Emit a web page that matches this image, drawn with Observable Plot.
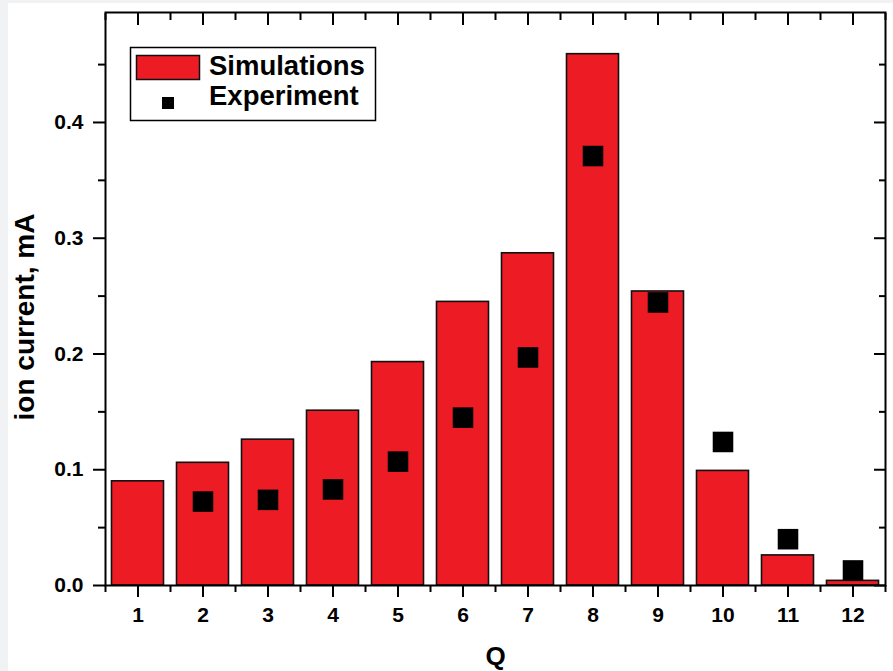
<!DOCTYPE html>
<html><head><meta charset="utf-8">
<script src="https://cdn.jsdelivr.net/npm/d3@7"></script>
<script src="https://cdn.jsdelivr.net/npm/@observablehq/plot@0.6"></script>
<style>
html,body{margin:0;padding:0;background:#f1f2f3;overflow:hidden;}
#wrap{position:absolute;left:0;top:0;width:893px;height:671px;}
#card{position:absolute;left:8px;top:3px;right:0;bottom:0;background:#fff;}
#chart{position:absolute;left:0;top:0;}
</style></head><body>
<div id="wrap"><div id="card"></div><div id="chart"></div></div>
<script>
// ---- data ----
const charges = [1, 2, 3, 4, 5, 6, 7, 8, 9, 10, 11, 12];
const simulations = [0.090, 0.106, 0.126, 0.151, 0.193, 0.245, 0.287, 0.459, 0.254, 0.099, 0.026, 0.004];
const expCharges = [2, 3, 4, 5, 6, 7, 8, 9, 10, 11, 12];
const experiment = [0.0725, 0.074, 0.083, 0.107, 0.145, 0.197, 0.371, 0.2445, 0.124, 0.040, 0.013];
const xMajorTicks = [1, 2, 3, 4, 5, 6, 7, 8, 9, 10, 11, 12];
const xMinorTicks = [0.5, 1.5, 2.5, 3.5, 4.5, 5.5, 6.5, 7.5, 8.5, 9.5, 10.5, 11.5, 12.5];
const yMajorTicks = [0.0, 0.1, 0.2, 0.3, 0.4];
const yMinorTicks = [0.05, 0.15, 0.25, 0.35, 0.45];
const xLabel = "Q";
const yLabel = "ion current, mA";
const legendLabels = ["Simulations", "Experiment"];

const simData = charges.map((q, i) => ({q, v: simulations[i]}));
const expData = expCharges.map((q, i) => ({q, v: experiment[i]}));
const RED = "#ed1c24";
const barHalf = 0.4;
const tickOnly = {fill: "none", label: null, strokeWidth: 2};

const plot = Plot.plot({
  width: 893,
  height: 671,
  marginLeft: 105,
  marginRight: 8,
  marginTop: 12,
  marginBottom: 86,
  style: {fontFamily: "'Liberation Sans', Arial, sans-serif", fontWeight: "bold", fontSize: "21px", background: "transparent", color: "black"},
  x: {domain: [0.5, 12.5], label: null},
  y: {domain: [0, 0.495], label: null},
  marks: [
    Plot.rectY(simData, {x1: d => d.q - barHalf, x2: d => d.q + barHalf, y1: 0, y2: "v", fill: RED, stroke: "#111", strokeWidth: 1.6}),
    Plot.dot(expData, {x: "q", y: "v", symbol: "square", r: 11.6, fill: "black", stroke: "none"}),
    // bottom axis
    Plot.axisX({anchor: "bottom", ticks: xMajorTicks, tickSize: 12, tickPadding: 10, tickFormat: d => String(d), strokeWidth: 2, label: null}),
    Plot.axisX({anchor: "bottom", ticks: xMinorTicks, tickSize: 7, ...tickOnly}),
    // top axis (inward ticks)
    Plot.axisX({anchor: "top", ticks: xMajorTicks, tickSize: 12, dy: 12, ...tickOnly}),
    Plot.axisX({anchor: "top", ticks: xMinorTicks, tickSize: 7, dy: 7, ...tickOnly}),
    // left axis
    Plot.axisY({anchor: "left", ticks: yMajorTicks, tickSize: 12, tickPadding: 10, tickFormat: d3.format(".1f"), strokeWidth: 2, label: null}),
    Plot.axisY({anchor: "left", ticks: yMinorTicks, tickSize: 7, ...tickOnly}),
    // right axis (inward ticks)
    Plot.axisY({anchor: "right", ticks: yMajorTicks, tickSize: 12, dx: -12, ...tickOnly}),
    Plot.axisY({anchor: "right", ticks: yMinorTicks, tickSize: 7, dx: -7, ...tickOnly}),
    Plot.frame({stroke: "black", strokeWidth: 2}),
    // axis titles
    Plot.text([xLabel], {frameAnchor: "bottom", text: d => d, dy: 71, fontSize: 26, fontWeight: "bold", lineAnchor: "middle", textAnchor: "middle"}),
    Plot.text([yLabel], {frameAnchor: "left", text: d => d, rotate: -90, dx: -80, dy: 18, fontSize: 28, fontWeight: "bold", lineAnchor: "middle", textAnchor: "middle"})
  ]
});
document.getElementById("chart").appendChild(plot);

// ---- legend (inside plot area, upper left) ----
const svg = d3.select(plot);
const lg = svg.append("g").attr("font-family", "'Liberation Sans', Arial, sans-serif")
  .attr("font-weight", "bold").attr("text-anchor", "start");
lg.append("rect").attr("x", 130.5).attr("y", 47.5).attr("width", 245).attr("height", 73)
  .attr("fill", "white").attr("stroke", "black").attr("stroke-width", 1.5);
lg.append("rect").attr("x", 136.5).attr("y", 55.5).attr("width", 63).attr("height", 24)
  .attr("fill", RED).attr("stroke", "#111").attr("stroke-width", 1.5);
lg.append("text").attr("x", 209).attr("y", 74.5).attr("font-size", 27.5).attr("fill", "black").text(legendLabels[0]);
lg.append("rect").attr("x", 162).attr("y", 97).attr("width", 12).attr("height", 12).attr("fill", "black");
lg.append("text").attr("x", 209).attr("y", 105).attr("font-size", 27.5).attr("fill", "black").text(legendLabels[1]);
</script>
</body></html>
